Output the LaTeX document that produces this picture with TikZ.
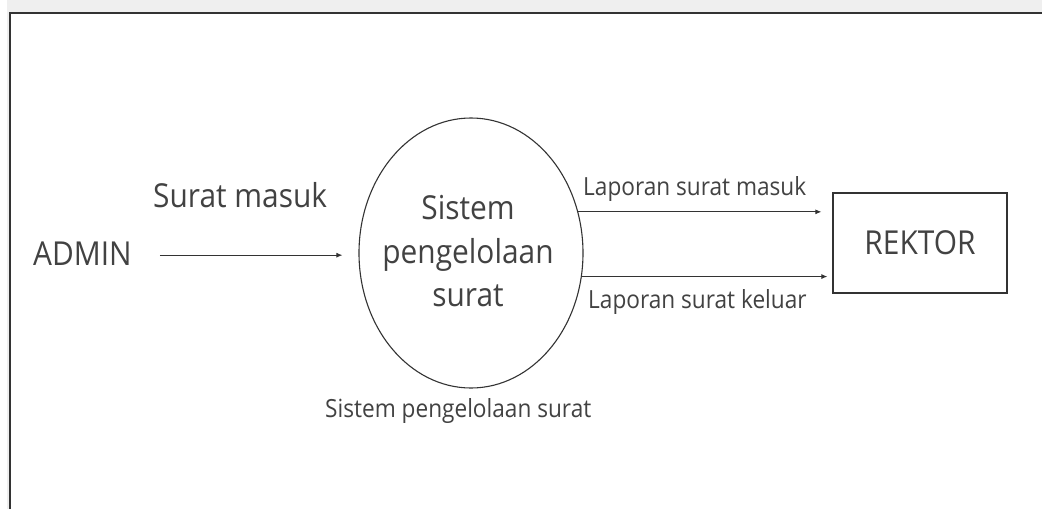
\documentclass[tikz,border=0pt]{standalone}
\usepackage{fontspec}
\setmainfont[FakeStretch=0.905]{Open Sans}
\usetikzlibrary{arrows.meta,shapes.geometric,calc}
\definecolor{ink}{HTML}{424242}
\definecolor{edge}{HTML}{333333}
\definecolor{halo}{HTML}{EFEFEF}
\tikzset{
  bigtxt/.style={font=\fontsize{33}{43.5}\selectfont, text=ink, inner sep=0pt},
  smalltxt/.style={font=\fontsize{25}{30}\selectfont, text=ink, inner sep=0pt},
  flow/.style={draw=edge, line width=1pt, -{Latex[length=6pt,width=5pt]}},
  procbox/.style={ellipse, draw=edge, line width=1.1pt, minimum width=224pt, minimum height=270pt, inner sep=0pt},
  entbox/.style={rectangle, draw=edge, line width=1.2pt, minimum width=174pt, minimum height=100pt, inner sep=0pt},
  framebox/.style={draw=edge, line width=1.6pt}
}
\begin{document}
\begin{tikzpicture}[x=1pt,y=-1pt]
\useasboundingbox (0,0) rectangle (1042,509);
% frame
\fill[halo] (7,0) rectangle (1042,509);
\fill[white] (10,13) rectangle (1042,509);
\draw[framebox] (10,509) -- (10,13) -- (1042,13);
% nodes
\node[procbox] (proc) at (471,253) {};
\node[bigtxt, align=center] (proctext) at (468,251.5) {Sistem\\pengelolaan\\surat};
\node[entbox, bigtxt, inner sep=0pt] (rek) at (920,243) {REKTOR};
\node[bigtxt, anchor=base west] (admin) at (33,265) {ADMIN};
% labels
\node[bigtxt, anchor=base west] (lsm) at (153,207) {Surat masuk};
\node[smalltxt, anchor=base west] (lproc) at (325,417) {Sistem pengelolaan surat};
\node[smalltxt, anchor=base west] (llm) at (583,195) {Laporan surat masuk};
\node[smalltxt, anchor=base west] (llk) at (588,308) {Laporan surat keluar};
% connectors
\coordinate (a1) at ($(admin.east)+(28,2)$);
\draw[flow, shorten >=16pt] (a1) -- (a1 -| proc.west);
\draw[flow, shorten >=11pt] (proc.21.5) -- (proc.21.5 -| rek.west);
\draw[flow, shorten >=5pt] (proc.-12.3) -- (proc.-12.3 -| rek.west);
\end{tikzpicture}
\end{document}
